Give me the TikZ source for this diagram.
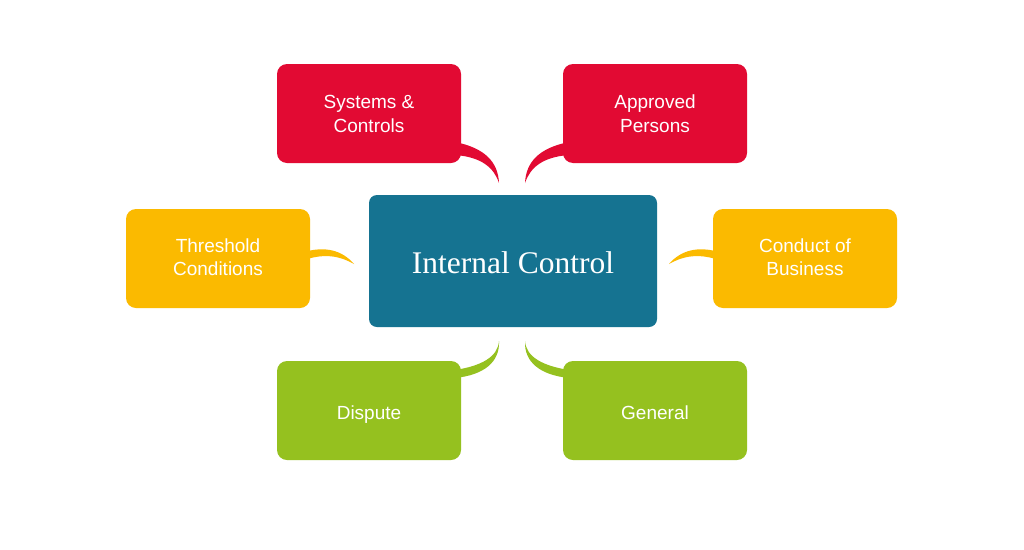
\documentclass[tikz,border=0pt]{standalone}
\usepackage{fontspec}
\setmainfont{Liberation Sans}
\newfontfamily\serific{Liberation Serif}
\definecolor{cred}{HTML}{E20A33}
\definecolor{corange}{HTML}{FBBA00}
\definecolor{cgreen}{HTML}{95C11F}
\definecolor{cteal}{HTML}{157391}
\begin{document}
\begin{tikzpicture}[x=1pt,y=-1pt,
  box/.style={rounded corners=10pt,minimum width=184pt,minimum height=99pt,inner sep=0pt,align=center,text=white,font=\fontsize{19}{24}\selectfont},
  mainbox/.style={rounded corners=8pt,minimum width=288pt,minimum height=132pt,inner sep=0pt,fill=cteal,text=white,font=\serific\fontsize{31.5}{34}\selectfont}]
\useasboundingbox[fill=white] (0,0) rectangle (1024,549);
% tips of connectors
\coordinate (tTL) at (499,183);
\coordinate (tTR) at (525,183);
\coordinate (tL) at (354,264);
\coordinate (tR) at (669,264);
\coordinate (tBL) at (499,341);
\coordinate (tBR) at (525,341);
% connectors (drawn under boxes)
\fill[cred] (455,142) .. controls (485,148) and (498,162) .. (tTL) .. controls (494,168) and (482,157) .. (455,155) -- cycle;
\fill[cred] (569,142) .. controls (539,148) and (526,162) .. (tTR) .. controls (530,168) and (542,157) .. (569,155) -- cycle;
\fill[corange] (304,252) .. controls (325,246) and (342,250) .. (tL) .. controls (340,256) and (325,253) .. (304,260) -- cycle;
\fill[corange] (719,252) .. controls (698,246) and (681,250) .. (tR) .. controls (683,256) and (698,253) .. (719,260) -- cycle;
\fill[cgreen] (tBL) .. controls (498,357) and (481,366) .. (455,370) -- (455,378) .. controls (484,375) and (500,362) .. (tBL) -- cycle;
\fill[cgreen] (tBR) .. controls (526,357) and (543,366) .. (569,370) -- (569,378) .. controls (540,375) and (524,362) .. (tBR) -- cycle;
% boxes
\node[box,fill=cred] (sc) at (369,113.5) {Systems \&\\Controls};
\node[box,fill=cred] (ap) at (655,113.5) {Approved\\Persons};
\node[box,fill=corange] (tc) at (218,258.5) {\raisebox{-5pt}[0pt][0pt]{\begin{tabular}{@{}c@{}}Threshold\\[-0.5pt]Conditions\end{tabular}}};
\node[box,fill=corange] (cb) at (805,258.5) {\raisebox{-5pt}[0pt][0pt]{\begin{tabular}{@{}c@{}}Conduct of\\[-0.5pt]Business\end{tabular}}};
\node[box,fill=cgreen] (di) at (369,410.5) {\raisebox{-9.3pt}[0pt][0pt]{Dispute}};
\node[box,fill=cgreen] (ge) at (655,410.5) {\raisebox{-9.3pt}[0pt][0pt]{General}};
\node[mainbox] (ic) at (513,261) {\raisebox{-12.4pt}[0pt][0pt]{Internal Control}};
\end{tikzpicture}
\end{document}
